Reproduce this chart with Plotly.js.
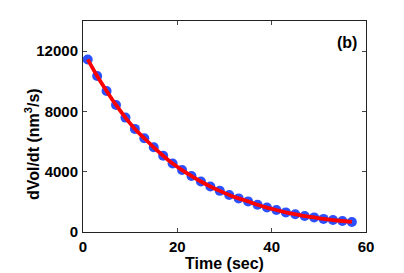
<!DOCTYPE html>
<html>
<head>
<meta charset="utf-8">
<script src="https://cdn.plot.ly/plotly-3.0.1.min.js"></script>
<style>html,body{margin:0;padding:0;background:#fff;}#chart{width:404px;height:273px;}</style>
</head>
<body>
<div id="chart"></div>
<script>
const timeSec = [1,3,5,7,9,11,13,15,17,19,21,23,25,27,29,31,33,35,37,39,41,43,45,47,49,51,53,55,57];
const dVolDt = [11450,10350,9360,8430,7590,6840,6220,5620,5060,4540,4110,3720,3350,3020,2730,2460,2230,2030,1810,1620,1460,1300,1175,1060,970,870,795,730,665];
const xTicks = [0,20,40,60];
const yTicks = [0,4000,8000,12000];
const panelLabel = '(b)';
const xTitle = 'Time (sec)';
const yTitle = 'dVol/dt (nm<sup>3</sup>/s)';

const tickFont = {family: 'Liberation Sans, Arial, sans-serif', size: 15, color: '#000', weight: 'bold'};
const titleFont = {family: 'Liberation Sans, Arial, sans-serif', size: 16, color: '#000', weight: 'bold'};

const traces = [
  {x: timeSec, y: dVolDt, mode: 'markers', type: 'scatter',
   marker: {color: 'rgb(45,80,255)', size: 10, line: {width: 0}}, hoverinfo: 'skip'},
  {x: timeSec, y: dVolDt, mode: 'lines', type: 'scatter',
   line: {color: 'rgb(255,0,0)', width: 3.8, shape: 'spline'}, hoverinfo: 'skip'}
];

const axisBase = {
  showgrid: false, zeroline: false, showline: true, linecolor: '#222', linewidth: 1,
  mirror: 'allticks', ticks: 'inside', ticklen: 4, tickcolor: '#444', tickwidth: 1,
  tickfont: tickFont
};

const layout = {
  width: 404, height: 273,
  margin: {l: 83, r: 38, t: 21, b: 41, pad: 0},
  paper_bgcolor: '#fff', plot_bgcolor: '#fff',
  showlegend: false,
  font: tickFont,
  xaxis: Object.assign({}, axisBase, {range: [0, 60], tickvals: xTicks, ticktext: xTicks.map(String),
    ticklabelstandoff: 1,
    title: {text: xTitle, font: titleFont, standoff: 0}}),
  yaxis: Object.assign({}, axisBase, {range: [0, 14000], tickvals: yTicks, ticktext: yTicks.map(String),
    ticklabelstandoff: 1}),
  annotations: [
    {text: panelLabel, xref: 'paper', yref: 'paper', x: 0.933, y: 0.9, xanchor: 'center', yanchor: 'middle',
     showarrow: false, font: titleFont},
    {text: yTitle, xref: 'paper', yref: 'paper', x: -0.178, y: 0.415, xanchor: 'center', yanchor: 'middle',
     textangle: -90, showarrow: false, font: titleFont}
  ]
};

Plotly.newPlot('chart', traces, layout, {staticPlot: true, displayModeBar: false});
</script>
</body>
</html>
